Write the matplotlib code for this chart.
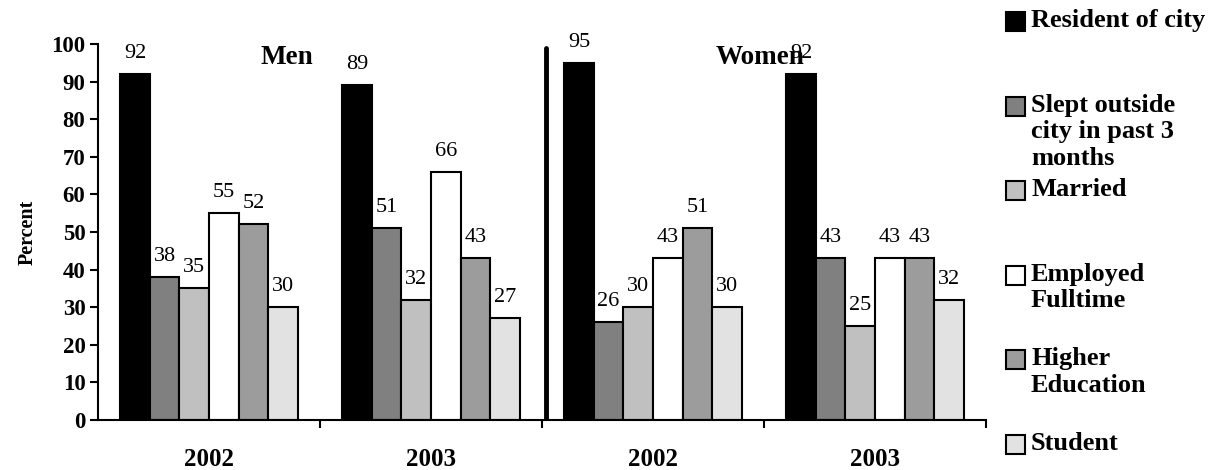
import matplotlib
matplotlib.use("Agg")
import matplotlib.pyplot as plt
import numpy as np
from matplotlib.patches import Rectangle

plt.rcParams["font.family"] = ["Liberation Serif", "DejaVu Serif"]

# --- data ---
groups = ["2002", "2003", "2002", "2003"]
series = ["Resident of city", "Slept outside\ncity in past 3\nmonths", "Married",
          "Employed\nFulltime", "Higher\nEducation", "Student"]
resident = [92, 89, 95, 92]
slept_outside = [38, 51, 26, 43]
married = [35, 32, 30, 25]
employed = [55, 66, 43, 43]
higher_edu = [52, 43, 51, 43]
student = [30, 27, 30, 32]
values = [resident, slept_outside, married, employed, higher_edu, student]
colors = ["#000000", "#808080", "#c0c0c0", "#ffffff", "#9c9c9c", "#e2e2e2"]

W, H = 1214, 470
fig = plt.figure(figsize=(W / 100, H / 100), dpi=100)
ax = fig.add_axes([98 / W, 50 / H, 888 / W, 376 / H])

n = len(values)
bw = 0.8 / n
x = np.arange(len(groups))
for i, (vals, col) in enumerate(zip(values, colors)):
    bars = ax.bar(x - 0.4 + bw * (i + 0.5), vals, bw, color=col,
                  edgecolor="black", linewidth=1.5)
    ax.bar_label(bars, labels=[str(v) for v in vals], padding=8, fontsize=16)

ax.set_xlim(-0.5, 3.5)
ax.set_ylim(0, 100)
ax.set_yticks(range(0, 101, 10))
ax.tick_params(axis="y", labelsize=16.5, width=1.5, length=6, pad=3)
for lab in ax.get_yticklabels():
    lab.set_fontweight("bold")

ax.set_xticks([0.5, 1.5, 2.5, 3.5])
ax.set_xticklabels([])
ax.set_xticks(x, minor=True)
ax.set_xticklabels(groups, minor=True, fontsize=18, fontweight="bold")
ax.tick_params(axis="x", which="major", width=1.5, length=6)
ax.tick_params(axis="x", which="minor", length=0, pad=20)

for s in ["top", "right"]:
    ax.spines[s].set_visible(False)
for s in ["left", "bottom"]:
    ax.spines[s].set_linewidth(1.5)

ax.set_ylabel("Percent", fontsize=14.5, fontweight="bold", labelpad=10)

# separator between men and women
ax.axvline(1.52, ymin=0, ymax=0.99, color="black", linewidth=3.5,
           solid_capstyle="round")

ax.text(0.23, 96.5, "Men", fontsize=19.5, fontweight="bold", va="center")
ax.text(2.28, 96.5, "Women", fontsize=19.5, fontweight="bold", va="center")

# legend drawn manually, squares evenly spaced
for i, (lab, col) in enumerate(zip(series, colors)):
    top = 12 + 84.6 * i
    fig.add_artist(Rectangle((1006 / W, 1 - (top + 19) / H), 19 / W, 19 / H,
                             transform=fig.transFigure, facecolor=col,
                             edgecolor="black", linewidth=1.5))
    fig.text(1031 / W, 1 - (top - 3) / H, lab, fontsize=19, fontweight="bold",
             va="top", ha="left", linespacing=1.2)

fig.savefig("out.png", dpi=100)
